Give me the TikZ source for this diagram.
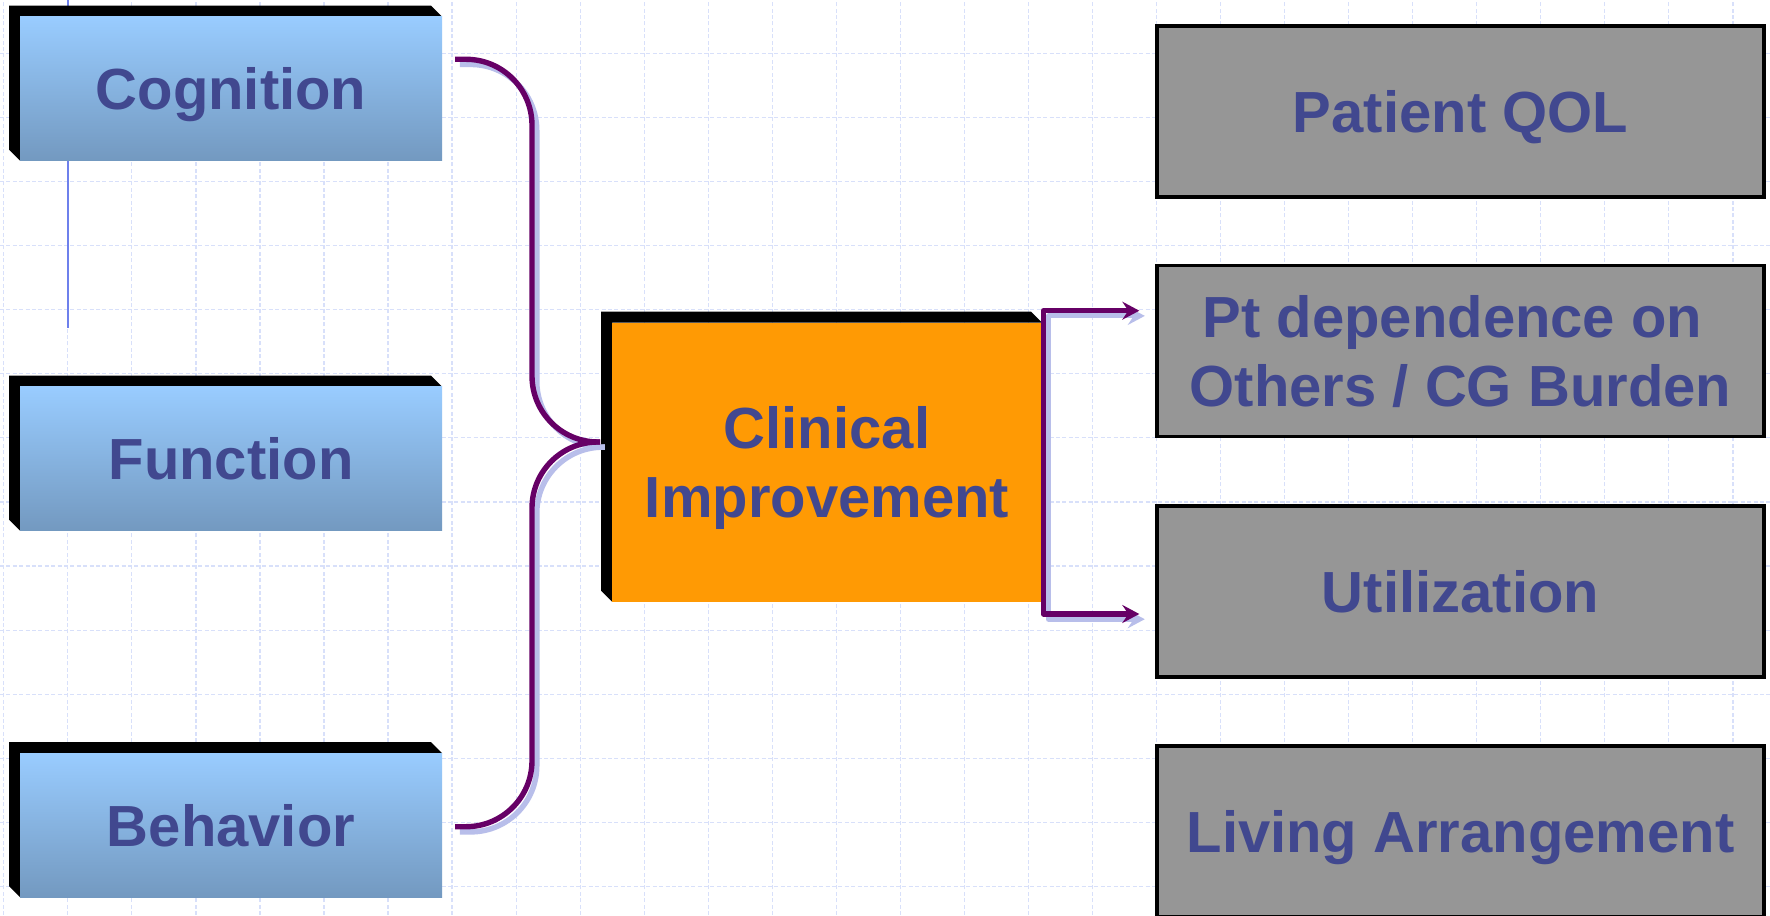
\documentclass[tikz,border=0pt]{standalone}
\usepackage{fontspec}
\setmainfont{Liberation Sans}
\usetikzlibrary{calc,arrows.meta}

\pgfdeclarelayer{gridlayer}
\pgfdeclarelayer{backdrop}
\pgfsetlayers{gridlayer,backdrop,main}

\definecolor{gridblue}{RGB}{216,224,250}
\definecolor{rulerblue}{RGB}{110,128,236}
\definecolor{skytop}{RGB}{153,204,255}
\definecolor{skybot}{RGB}{115,153,192}
\definecolor{amber}{RGB}{255,154,4}
\definecolor{slate}{RGB}{150,150,150}
\definecolor{inkblue}{RGB}{65,72,143}
\definecolor{plum}{RGB}{102,0,102}
\definecolor{lilac}{RGB}{184,190,234}

% black bevelled back face behind a front box
\newcommand{\bevelback}[1]{%
  \fill[black] ($(#1.south west)+(-11,11)$) -- ($(#1.north west)+(-11,11)$)
    -- ($(#1.north east)+(-11,11)$) -- (#1.north east) -- (#1.north west)
    -- (#1.south west) -- cycle;}

\tikzset{
  boxtext/.style={font=\bfseries\fontsize{29}{34.8}\selectfont, text=inkblue,
    inner sep=0pt, outer sep=0pt, align=center},
  oneline/.style={text height=20.9pt, text depth=0pt},
  twoline/.style={text height=55.7pt, text depth=0pt},
  factor/.style={boxtext, oneline, minimum width=211pt, minimum height=72pt,
    top color=skytop, bottom color=skybot},
  hub/.style={boxtext, twoline, minimum width=215pt, minimum height=139.5pt, fill=amber},
  outcome/.style={boxtext, minimum width=303.5pt, minimum height=85.5pt,
    fill=slate, draw=black, line width=1.75pt},
  gridline/.style={draw=gridblue, line width=0.6pt, dash pattern=on 2pt off 1.2pt},
  brace/.style={draw=plum, line width=2.7pt, rounded corners=33pt},
  braceshade/.style={draw=lilac, line width=2.7pt, rounded corners=33pt,
    transform canvas={shift={(2.4pt,-2.6pt)}}},
  tipped/.style={{Stealth[length=8.5pt,width=9pt,inset=3pt]}-{Stealth[length=8.5pt,width=9pt,inset=3pt]}},
  fork/.style={draw=plum, line width=2.6pt, line join=round, tipped},
  forkshade/.style={draw=lilac, line width=2.6pt, line join=round, tipped,
    transform canvas={shift={(2.75pt,-2.6pt)}}}
}

\begin{document}
\begin{tikzpicture}[x=0.5pt, y=0.5pt]
\useasboundingbox (0,0) rectangle (1770,915);
\clip (0,0) rectangle (1770,915);

% background grid and the thin blue rule
\begin{pgfonlayer}{gridlayer}
  \fill[white] (0,0) rectangle (1770,915);
  \foreach \k in {0,...,27}
    \draw[gridline] ({3.8+64.04*\k},0) -- ({3.8+64.04*\k},915);
  \foreach \k in {0,...,13}
    \draw[gridline] (0,{861.7-64.1*\k}) -- (1770,{861.7-64.1*\k});
  \coordinate (rtop) at (68.1,915);
  \coordinate (rbot) at (68.1,587.3);
  \draw[rulerblue, line width=1pt] (rtop) -- (rbot);
\end{pgfonlayer}

% left column
\node[factor] (cog)  at (231,826.3) {Cognition};
\node[factor] (func) at (231,456.3) {Function};
\node[factor] (beh)  at (231,89.8)  {Behavior};

% centre
\node[hub] (clin) at (827,452.8) {Clinical\\Improvement};

% right column
\node[outcome, oneline] (qol)  at (1460.5,803.5) {Patient QOL};
\node[outcome, twoline] (pt)   at (1460.5,564)   {Pt dependence on\hphantom{\ }\\Others / CG Burden};
\node[outcome, oneline] (util) at (1460.5,323.7) {Utilization};
\node[outcome, oneline] (liv)  at (1460.5,83.5)  {Living Arrangement};

\begin{pgfonlayer}{backdrop}
  \bevelback{cog}
  \bevelback{func}
  \bevelback{beh}
  \bevelback{clin}
\end{pgfonlayer}

% brace joining the three factors into the centre box
\coordinate (bs)  at ($(cog.east)+(13,29.4)$);
\coordinate (be)  at ($(beh.east)+(13,-1.5)$);
\coordinate (tip) at ($(clin.west)+(-12,20.2)$);
\coordinate (spine) at ($(tip)+(-68,0)$);
\draw[braceshade] (bs) -| (spine) -- (tip);
\draw[braceshade] (tip) -- (spine) |- (be);
\draw[brace] (bs) -| (spine) -- (tip);
\draw[brace] (tip) -- (spine) |- (be);

% forked arrow to the outcomes
\coordinate (xv) at ($(clin.east)+(1.3,0)$);
\coordinate (ta) at ($(pt.west)+(-17.7,40.3)$);
\coordinate (ba) at ($(util.west)+(-17.7,-22.7)$);
\draw[forkshade] (ta) -- (ta -| xv) -- (ba -| xv) -- (ba);
\draw[fork] (ta) -- (ta -| xv) -- (ba -| xv) -- (ba);
\end{tikzpicture}
\end{document}
